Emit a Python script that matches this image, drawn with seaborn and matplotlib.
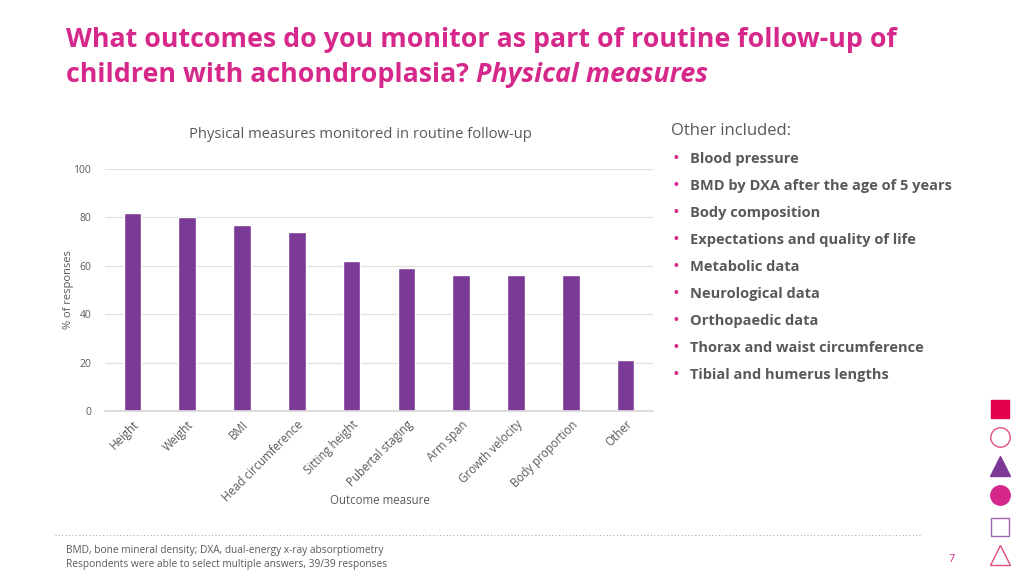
import matplotlib
matplotlib.use("Agg")
import matplotlib.pyplot as plt
import seaborn as sns
import pandas as pd
from matplotlib.lines import Line2D

categories = ["Height", "Weight", "BMI", "Head circumference", "Sitting height",
              "Pubertal staging", "Arm span", "Growth velocity", "Body proportion", "Other"]
values = [82, 80, 77, 74, 62, 59, 56, 56, 56, 21]
yticks = [0, 20, 40, 60, 80, 100]
other_items = ["Blood pressure", "BMD by DXA after the age of 5 years", "Body composition",
               "Expectations and quality of life", "Metabolic data", "Neurological data",
               "Orthopaedic data", "Thorax and waist circumference", "Tibial and humerus lengths"]

sns.set_theme(style="white")
plt.rcParams['font.family'] = ['Open Sans', 'DejaVu Sans']

MAGENTA = "#D6288A"
PURPLE = "#7B3A96"
GRAY = "#595959"

fig = plt.figure(figsize=(10.24, 5.76), dpi=100)
W, H = 1024, 576
def fx(x): return x / W
def fy(y): return 1 - y / H

ax = fig.add_axes([fx(105), fy(411), fx(653) - fx(105), fy(169) - fy(411)])
df = pd.DataFrame({"cat": categories, "val": values})
sns.barplot(data=df, x="cat", y="val", color=PURPLE, width=0.32, ax=ax, saturation=1)
ax.set_ylim(0, 100)
ax.set_xlim(-0.5, len(categories) - 0.5)
ax.set_yticks(yticks)
ax.set_yticklabels([str(t) for t in yticks], fontsize=7.5, color=GRAY)
ax.yaxis.grid(True, color="#E0E0E0", linewidth=0.9)
ax.set_axisbelow(True)
for s in ["top", "right", "left"]:
    ax.spines[s].set_visible(False)
ax.spines["bottom"].set_color("#D9D9D9")
ax.tick_params(axis="y", length=0, pad=10)
ax.tick_params(axis="x", length=0, pad=5)
ax.set_xticks(range(len(categories)))
ax.set_xticklabels(categories, rotation=45, ha="right", rotation_mode="anchor",
                   fontsize=8.3, color=GRAY)
ax.set_xlabel("Outcome measure", fontsize=8.3, color=GRAY)
ax.set_ylabel("% of responses", fontsize=8, color=GRAY, va="center")
ax.xaxis.set_label_coords((380 - 105) / (653 - 105), -(501 - 411) / (411 - 169))
ax.xaxis.label.set_va("center")
ax.yaxis.set_label_coords(-(105 - 68) / (653 - 105), (411 - 290) / (411 - 169))

# Titles
fig.text(fx(66), fy(40), "What outcomes do you monitor as part of routine follow-up of",
         fontsize=19.3, fontweight="bold", color=MAGENTA, va="center", ha="left")
t2 = fig.text(fx(66), fy(75), "children with achondroplasia? ",
              fontsize=19.3, fontweight="bold", color=MAGENTA, va="center", ha="left")
fig.canvas.draw()
bb = t2.get_window_extent()
fig.text(bb.x1 / W, fy(75), "Physical measures", fontsize=19.3, fontweight="bold",
         fontstyle="italic", color=MAGENTA, va="center", ha="left")

fig.text(fx(360), fy(135), "Physical measures monitored in routine follow-up",
         fontsize=10.6, color=GRAY, ha="center", va="center")

# Right side list
fig.text(fx(671), fy(131), "Other included:", fontsize=12, color=GRAY, ha="left", va="center")
for i, item in enumerate(other_items):
    y = 159 + 27 * i
    fig.text(fx(676), fy(y), "•", fontsize=13, color=MAGENTA, ha="center", va="center")
    fig.text(fx(690), fy(y), item, fontsize=10.5, fontweight="bold", color=GRAY,
             ha="left", va="center")

# Dotted separator
fig.add_artist(Line2D([fx(55), fx(920)], [fy(535), fy(535)], color="#A0A0A0",
                      linestyle=(0, (1, 2.5)), linewidth=0.7))
fig.text(fx(66), fy(550), "BMD, bone mineral density; DXA, dual-energy x-ray absorptiometry",
         fontsize=7.3, color=GRAY, ha="left", va="center")
fig.text(fx(66), fy(564), "Respondents were able to select multiple answers, 39/39 responses",
         fontsize=7.3, color=GRAY, ha="left", va="center")
fig.text(fx(952), fy(559), "7", fontsize=8, color=MAGENTA, ha="center", va="center")

# Decorative shapes
ov = fig.add_axes([0, 0, 1, 1], facecolor="none")
ov.set_xlim(0, W); ov.set_ylim(H, 0); ov.axis("off")
ov.plot(1000, 409, marker="s", ms=13, color="#E4004F", mec="#E4004F")
ov.plot(1000, 437, marker="o", ms=14, mfc="none", mec="#E0507A", mew=1)
ov.plot(1000, 466, marker="^", ms=14, color=PURPLE, mec=PURPLE)
ov.plot(1000, 495, marker="o", ms=14, color=MAGENTA, mec=MAGENTA)
ov.plot(1000, 527, marker="s", ms=13, mfc="none", mec="#A066B0", mew=1)
ov.plot(1000, 555, marker="^", ms=15, mfc="none", mec="#E0507A", mew=1)

fig.savefig("out.png", dpi=100)
